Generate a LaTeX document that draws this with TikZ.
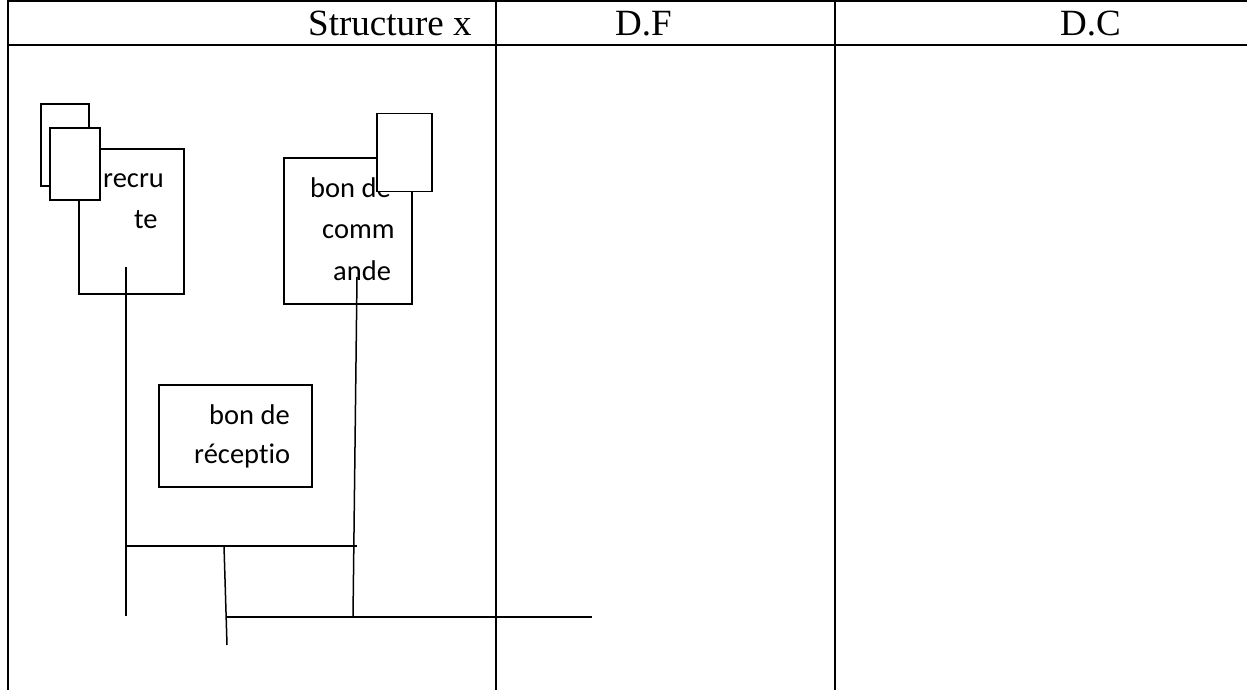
\documentclass[tikz,border=0pt]{standalone}
\usepackage{fontspec}
\setmainfont{Liberation Serif}
\newfontfamily\docfont[Ligatures=NoCommon]{Carlito}
\usetikzlibrary{positioning}
\tikzset{
  every picture/.style={x=1pt, y=-1pt},
  rule/.style={line width=2pt},
  doc/.style={draw, fill=white, line width=1.5pt, inner sep=0pt},
  link/.style={line width=1.5pt},
  head/.style={font=\fontsize{37}{40}\selectfont, anchor=base west, inner sep=0pt},
  txt/.style={font=\docfont\fontsize{28.5}{34}\selectfont, anchor=base west, inner sep=0pt},
}

\begin{document}
\begin{tikzpicture}
  \useasboundingbox (0,0) rectangle (1247,690);

  % table frame and column heads
  \draw[rule] (1247,1) -- (8,1) -- (8,690);
  \draw[rule] (8,45) -- (1247,45);
  \draw[rule] (496,1) -- (496,690);
  \draw[rule] (835,1) -- (835,690);
  \node[head] (hstruct) at (308,36) {Structure x};
  \node[head] (hdf) at (615,36) {D.F};
  \node[head] (hdc) at (1060,36) {D.C};

  % documents
  \node[doc, minimum width=48, minimum height=82] (stackback) at (65,145) {};
  \node[doc, minimum width=105, minimum height=145] (recrute) at (131.5,221.5) {};
  \node[doc, minimum width=50, minimum height=72] (stackfront) at (75,164) {};
  \node[txt] (rec1) at (103,187) {recru};
  \node[txt] (rec2) at (134,228) {te};

  \node[doc, minimum width=128, minimum height=146] (commande) at (348,231) {};
  \node[txt] (cmd1) at (310,197) {bon de};
  \node[txt] (cmd2) at (322,238) {comm};
  \node[txt] (cmd3) at (333,280) {ande};
  % tab sits over the first line
  \node[doc, minimum width=55, minimum height=78] (cmdtab) at (404.5,152.5) {};

  \node[doc, minimum width=153, minimum height=102] (reception) at (235.5,436) {};
  \node[txt] (rcp1) at (209,424) {bon de};
  \node[txt] (rcp2) at (194,463) {réceptio};

  % flow lines
  \coordinate (rtop) at (126,267);
  \coordinate (rbot) at (126,616);
  \coordinate (ctop) at (357,277);
  \coordinate (cbot) at (353,617);
  \coordinate (j1a) at (126,546);
  \coordinate (j1b) at (357,546);
  \coordinate (s1) at (224,546);
  \coordinate (s2) at (227,645);
  \coordinate (j2a) at (227,617);
  \coordinate (j2b) at (592,617);
  \draw[link] (rtop) -- (rbot);
  \draw[link] (ctop) -- (cbot);
  \draw[link] (j1a) -- (j1b);
  \draw[link] (s1) -- (s2);
  \draw[link] (j2a) -- (j2b);
\end{tikzpicture}
\end{document}
